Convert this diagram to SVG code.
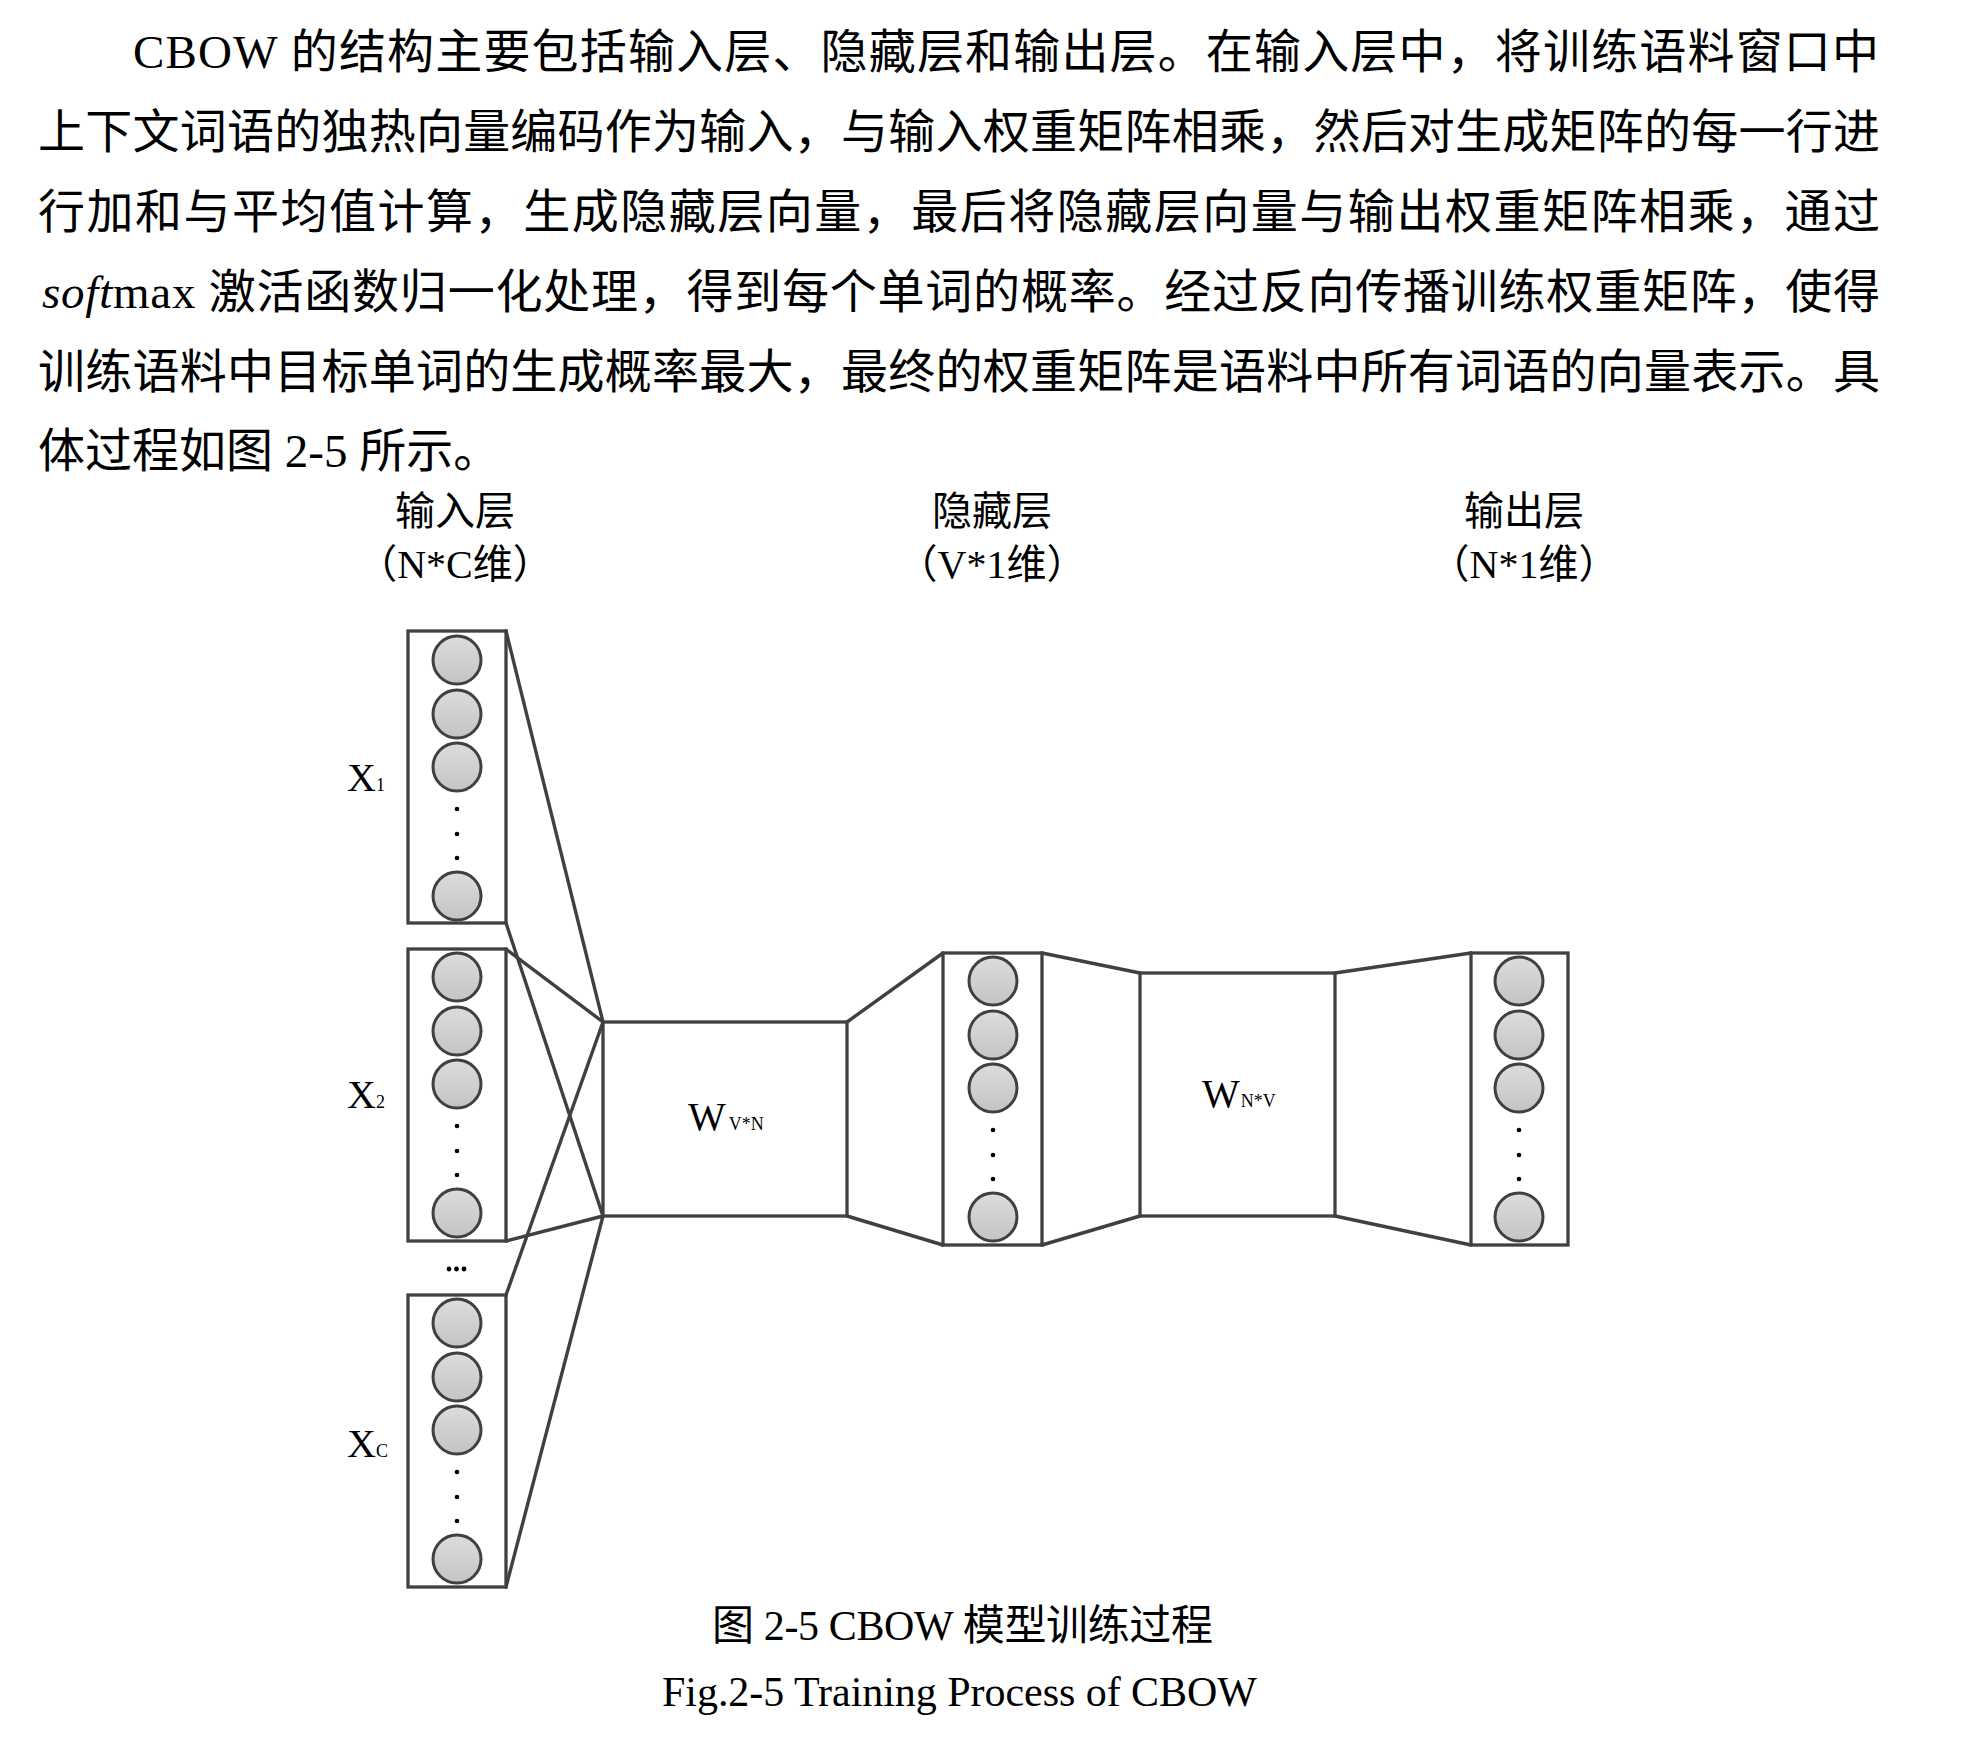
<svg xmlns="http://www.w3.org/2000/svg" width="1977" height="1738" viewBox="0 0 1977 1738">
<defs>
<linearGradient id="cg" x1="0" y1="0" x2="0" y2="1">
<stop offset="0" stop-color="#dcdcdc"/>
<stop offset="1" stop-color="#c4c4c4"/>
</linearGradient>
<style>
.para{font-family:"Liberation Serif","Noto Sans CJK SC",serif;font-size:47px;fill:#000}
.hdr{font-family:"Liberation Serif","Noto Sans CJK SC",serif;font-size:40px;fill:#000;text-anchor:middle}
.cap{font-family:"Liberation Serif","Noto Sans CJK SC",serif;font-size:42px;fill:#000}
.lbl{font-family:"Liberation Serif",serif;font-size:40px;fill:#000}
.sub{font-size:18px}
.box{fill:#fff;stroke:#404040;stroke-width:3.3}
.neu{fill:url(#cg);stroke:#404040;stroke-width:3}
.dot{fill:#000}
.con{stroke:#404040;stroke-width:3.4;fill:none;stroke-linecap:round}
</style>
</defs>
<rect x="0" y="0" width="1977" height="1738" fill="#fff"/>

<g id="paragraph">
<text class="para" x="133" y="68" textLength="1746" lengthAdjust="spacing">CBOW 的结构主要包括输入层、隐藏层和输出层。在输入层中，将训练语料窗口中</text>
<text class="para" x="38" y="148" textLength="1842" lengthAdjust="spacing">上下文词语的独热向量编码作为输入，与输入权重矩阵相乘，然后对生成矩阵的每一行进</text>
<text class="para" x="38" y="228" textLength="1842" lengthAdjust="spacing">行加和与平均值计算，生成隐藏层向量，最后将隐藏层向量与输出权重矩阵相乘，通过</text>
<text class="para" x="42" y="308" textLength="1838" lengthAdjust="spacing"><tspan font-style="italic">soft</tspan>max 激活函数归一化处理，得到每个单词的概率。经过反向传播训练权重矩阵，使得</text>
<text class="para" x="38" y="388" textLength="1842" lengthAdjust="spacing">训练语料中目标单词的生成概率最大，最终的权重矩阵是语料中所有词语的向量表示。具</text>
<text class="para" x="38" y="467">体过程如图 2-5 所示。</text>
</g>

<g id="headers">
<text class="hdr" x="455" y="525">输入层</text>
<text class="hdr" x="455" y="578">（N*C维）</text>
<text class="hdr" x="992" y="525">隐藏层</text>
<text class="hdr" x="992" y="578">（V*1维）</text>
<text class="hdr" x="1524" y="525">输出层</text>
<text class="hdr" x="1524" y="578">（N*1维）</text>
</g>

<g id="connectors">
<line class="con" x1="506" y1="631" x2="603" y2="1022"/>
<line class="con" x1="506" y1="923" x2="603" y2="1216"/>
<line class="con" x1="506" y1="949" x2="603" y2="1022"/>
<line class="con" x1="506" y1="1241" x2="603" y2="1216"/>
<line class="con" x1="506" y1="1295" x2="603" y2="1022"/>
<line class="con" x1="506" y1="1587" x2="603" y2="1216"/>
<line class="con" x1="847" y1="1022" x2="943" y2="953"/>
<line class="con" x1="847" y1="1216" x2="943" y2="1245"/>
<line class="con" x1="1042" y1="953" x2="1140" y2="973"/>
<line class="con" x1="1042" y1="1245" x2="1140" y2="1216"/>
<line class="con" x1="1335" y1="973" x2="1471" y2="953"/>
<line class="con" x1="1335" y1="1216" x2="1471" y2="1245"/>
</g>

<g id="x1">
<rect class="box" x="408" y="631" width="98" height="292"/>
<circle class="neu" cx="457" cy="660" r="24"/>
<circle class="neu" cx="457" cy="714" r="24"/>
<circle class="neu" cx="457" cy="767" r="24"/>
<circle class="dot" cx="457" cy="809" r="2.3"/>
<circle class="dot" cx="457" cy="834" r="2.3"/>
<circle class="dot" cx="457" cy="858" r="2.3"/>
<circle class="neu" cx="457" cy="896" r="24"/>
<text class="lbl" x="347" y="791">X<tspan class="sub">1</tspan></text>
</g>

<g id="x2">
<rect class="box" x="408" y="949" width="98" height="292"/>
<circle class="neu" cx="457" cy="977" r="24"/>
<circle class="neu" cx="457" cy="1031" r="24"/>
<circle class="neu" cx="457" cy="1084" r="24"/>
<circle class="dot" cx="457" cy="1126" r="2.3"/>
<circle class="dot" cx="457" cy="1151" r="2.3"/>
<circle class="dot" cx="457" cy="1175" r="2.3"/>
<circle class="neu" cx="457" cy="1213" r="24"/>
<text class="lbl" x="347" y="1108">X<tspan class="sub">2</tspan></text>
</g>

<g id="ellipsis">
<circle class="dot" cx="449" cy="1269" r="2.4"/>
<circle class="dot" cx="456.5" cy="1269" r="2.4"/>
<circle class="dot" cx="464" cy="1269" r="2.4"/>
</g>

<g id="xc">
<rect class="box" x="408" y="1295" width="98" height="292"/>
<circle class="neu" cx="457" cy="1323" r="24"/>
<circle class="neu" cx="457" cy="1377" r="24"/>
<circle class="neu" cx="457" cy="1430" r="24"/>
<circle class="dot" cx="457" cy="1472" r="2.3"/>
<circle class="dot" cx="457" cy="1497" r="2.3"/>
<circle class="dot" cx="457" cy="1521" r="2.3"/>
<circle class="neu" cx="457" cy="1559" r="24"/>
<text class="lbl" x="347" y="1457">X<tspan class="sub">C</tspan></text>
</g>

<g id="w_vn">
<rect class="box" x="603" y="1022" width="244" height="194"/>
<text class="lbl" x="688" y="1130" font-size="36">W<tspan class="sub" dx="3">V*N</tspan></text>
</g>

<g id="hidden">
<rect class="box" x="943" y="953" width="99" height="292"/>
<circle class="neu" cx="993" cy="981" r="24"/>
<circle class="neu" cx="993" cy="1035" r="24"/>
<circle class="neu" cx="993" cy="1088" r="24"/>
<circle class="dot" cx="993" cy="1130" r="2.3"/>
<circle class="dot" cx="993" cy="1155" r="2.3"/>
<circle class="dot" cx="993" cy="1179" r="2.3"/>
<circle class="neu" cx="993" cy="1217" r="24"/>
</g>

<g id="w_nv">
<rect class="box" x="1140" y="973" width="195" height="243"/>
<text class="lbl" x="1202" y="1107" font-size="36">W<tspan class="sub" dx="1">N*V</tspan></text>
</g>

<g id="output">
<rect class="box" x="1471" y="953" width="97" height="292"/>
<circle class="neu" cx="1519" cy="981" r="24"/>
<circle class="neu" cx="1519" cy="1035" r="24"/>
<circle class="neu" cx="1519" cy="1088" r="24"/>
<circle class="dot" cx="1519" cy="1130" r="2.3"/>
<circle class="dot" cx="1519" cy="1155" r="2.3"/>
<circle class="dot" cx="1519" cy="1179" r="2.3"/>
<circle class="neu" cx="1519" cy="1217" r="24"/>
</g>

<g id="caption">
<text class="cap" x="712" y="1640" textLength="501" lengthAdjust="spacing">图 2-5 CBOW 模型训练过程</text>
<text class="cap" x="662" y="1706" textLength="595" lengthAdjust="spacing">Fig.2-5 Training Process of CBOW</text>
</g>
</svg>
